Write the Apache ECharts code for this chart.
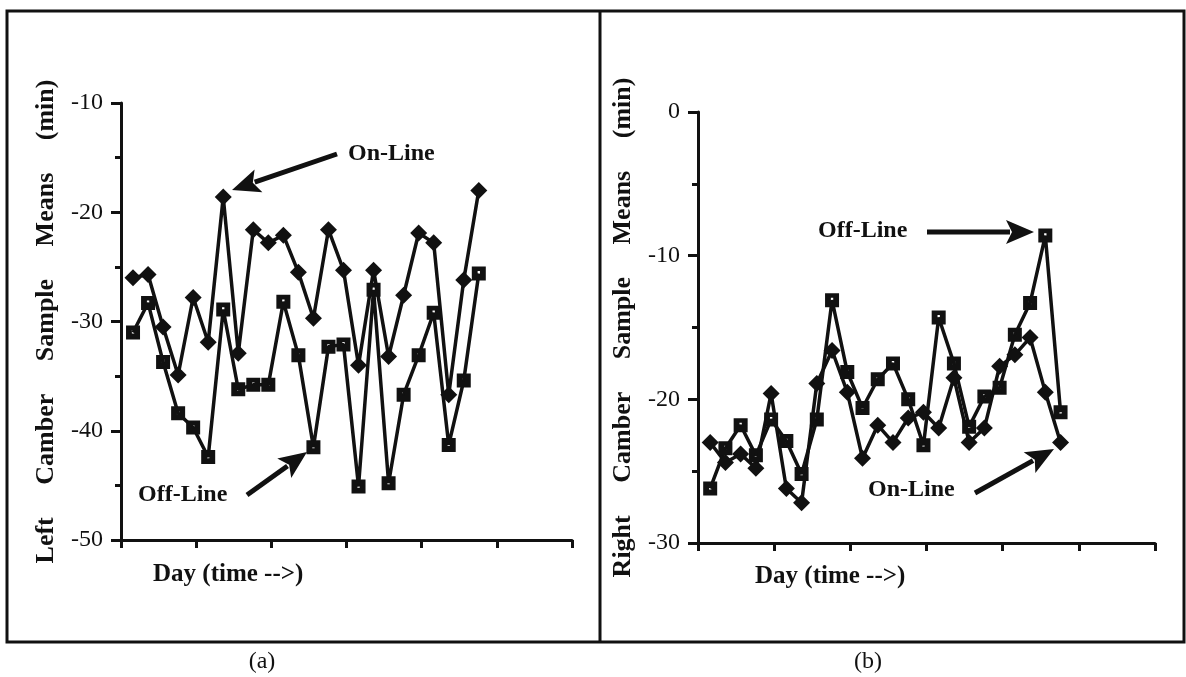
<!DOCTYPE html>
<html>
<head>
<meta charset="utf-8">
<title>Camber sample means</title>
<script src="https://cdn.jsdelivr.net/npm/echarts@6/dist/echarts.min.js"></script>
<style>
	html, body { margin: 0; padding: 0; background: #fff; }
	#chart { width: 1186px; height: 677px; }
</style>
</head>
<body>
<div id="chart"></div>
<script>
var days = [1, 2, 3, 4, 5, 6, 7, 8, 9, 10, 11, 12, 13, 14, 15, 16, 17, 18, 19, 20, 21, 22, 23, 24];

// (a) left camber
var leftOnLine = [-26.0, -25.7, -30.5, -34.9, -27.8, -31.9, -18.6, -32.9, -21.6, -22.8, -22.1, -25.5,
	-29.7, -21.6, -25.3, -34.0, -25.3, -33.2, -27.6, -21.9, -22.8, -36.7, -26.2, -18.0];
var leftOffLine = [-31.0, -28.3, -33.7, -38.4, -39.7, -42.4, -28.9, -36.2, -35.8, -35.8, -28.2, -33.1,
	-41.5, -32.3, -32.1, -45.1, -27.1, -44.8, -36.7, -33.1, -29.2, -41.3, -35.4, -25.6];

// (b) right camber
var rightOnLine = [-23.0, -24.4, -23.8, -24.8, -19.6, -26.2, -27.2, -18.9, -16.6, -19.5, -24.1, -21.8,
	-23.0, -21.3, -20.9, -22.0, -18.5, -23.0, -22.0, -17.7, -16.9, -15.7, -19.5, -23.0];
var rightOffLine = [-26.2, -23.4, -21.8, -23.9, -21.4, -22.9, -25.2, -21.4, -13.1, -18.1, -20.6, -18.6,
	-17.5, -20.0, -23.2, -14.3, -17.5, -21.9, -19.8, -19.2, -15.5, -13.3, -8.6, -20.9];

var ink = '#111';
var serif = '"Liberation Serif", "DejaVu Serif", serif';
var squareSymbol = 'path://M0,0H12V12H0Z M5,4V7H7V4Z';

function pairs(xs, ys) {
	var out = [];
	for(var i = 0; i < xs.length; i++) {
		out.push([xs[i], ys[i]]);
	}
	return out;
}

function xAxisFor(gridIndex) {
	return {
		type: 'value',
		gridIndex: gridIndex,
		min: 0.2,
		max: 30.2,
		interval: 5,
		axisLine: { onZero: false, lineStyle: { color: ink, width: 3 } },
		axisTick: { show: true, inside: false, length: 8, lineStyle: { color: ink, width: 3 } },
		axisLabel: { show: false },
		splitLine: { show: false }
	};
}

function yAxisFor(gridIndex, min, max, title) {
	return {
		type: 'value',
		gridIndex: gridIndex,
		min: min,
		max: max,
		interval: 10,
		name: title,
		nameLocation: 'middle',
		nameRotate: 90,
		nameGap: 62,
		nameTextStyle: { fontFamily: serif, fontWeight: 'bold', fontSize: 26, color: ink },
		axisLine: { onZero: false, lineStyle: { color: ink, width: 3 } },
		axisTick: { show: true, inside: false, length: 10, lineStyle: { color: ink, width: 3 } },
		minorTick: { show: true, splitNumber: 2, length: 6, lineStyle: { color: ink, width: 3 } },
		axisLabel: { fontFamily: serif, fontSize: 24, color: ink, margin: 18 },
		splitLine: { show: false },
		minorSplitLine: { show: false }
	};
}

function lineSeries(name, axisIndex, values, symbol, size) {
	return {
		name: name,
		type: 'line',
		xAxisIndex: axisIndex,
		yAxisIndex: axisIndex,
		data: pairs(days, values),
		symbol: symbol,
		symbolSize: size,
		showAllSymbol: true,
		lineStyle: { color: ink, width: 3.5 },
		itemStyle: { color: ink, borderColor: ink, borderWidth: 0 },
		animation: false
	};
}

function text(str, x, y, size, bold, align) {
	return {
		type: 'text',
		x: x,
		y: y,
		style: {
			text: str,
			font: (bold ? 'bold ' : '') + size + 'px ' + serif,
			fill: ink,
			align: align || 'left',
			verticalAlign: 'middle'
		}
	};
}

// arrow from tail (x1,y1) to tip (x2,y2)
function arrow(x1, y1, x2, y2) {
	var dx = x2 - x1,
		dy = y2 - y1,
		len = Math.sqrt(dx * dx + dy * dy),
		ux = dx / len,
		uy = dy / len,
		headLen = 28,
		headW = 12,
		bx = x2 - ux * headLen,
		by = y2 - uy * headLen;
	return [{
		type: 'polyline',
		shape: { points: [[x1, y1], [bx + ux * 4, by + uy * 4]] },
		style: { stroke: ink, lineWidth: 5, fill: null }
	}, {
		type: 'polygon',
		shape: { points: [[x2, y2], [bx - uy * headW, by + ux * headW], [bx + ux * 6, by + uy * 6], [bx + uy * headW, by - ux * headW]] },
		style: { fill: ink }
	}];
}

var graphics = [{
	type: 'rect',
	shape: { x: 7, y: 11, width: 1177, height: 631 },
	style: { stroke: ink, lineWidth: 3, fill: null }
}, {
	type: 'line',
	shape: { x1: 600, y1: 11, x2: 600, y2: 642 },
	style: { stroke: ink, lineWidth: 3 }
},
	text('On-Line', 348, 154, 24, true),
	text('Off-Line', 138, 495, 24, true),
	text('Off-Line', 818, 231, 24, true),
	text('On-Line', 868, 490, 24, true),
	text('Day (time -->)', 153, 575, 25, true),
	text('Day (time -->)', 755, 577, 25, true),
	text('(a)', 262, 662, 24, false, 'center'),
	text('(b)', 868, 662, 24, false, 'center')
];
graphics = graphics.concat(arrow(337, 154, 232, 190), arrow(247, 495, 307, 452),
	arrow(927, 232, 1034, 232), arrow(975, 493, 1054, 449));

var chart = echarts.init(document.getElementById('chart'));
chart.setOption({
	backgroundColor: '#fff',
	animation: false,
	grid: [
		{ left: 121, top: 103, width: 451, height: 437 },
		{ left: 698, top: 112, width: 457, height: 431 }
	],
	xAxis: [xAxisFor(0), xAxisFor(1)],
	yAxis: [
		yAxisFor(0, -50, -10, 'Left     Camber     Sample     Means     (min)'),
		yAxisFor(1, -30, 0, 'Right     Camber     Sample     Means     (min)')
	],
	series: [
		lineSeries('On-Line', 0, leftOnLine, 'diamond', 17),
		lineSeries('Off-Line', 0, leftOffLine, squareSymbol, 14),
		lineSeries('On-Line', 1, rightOnLine, 'diamond', 17),
		lineSeries('Off-Line', 1, rightOffLine, squareSymbol, 14)
	],
	graphic: graphics
});
</script>
</body>
</html>
